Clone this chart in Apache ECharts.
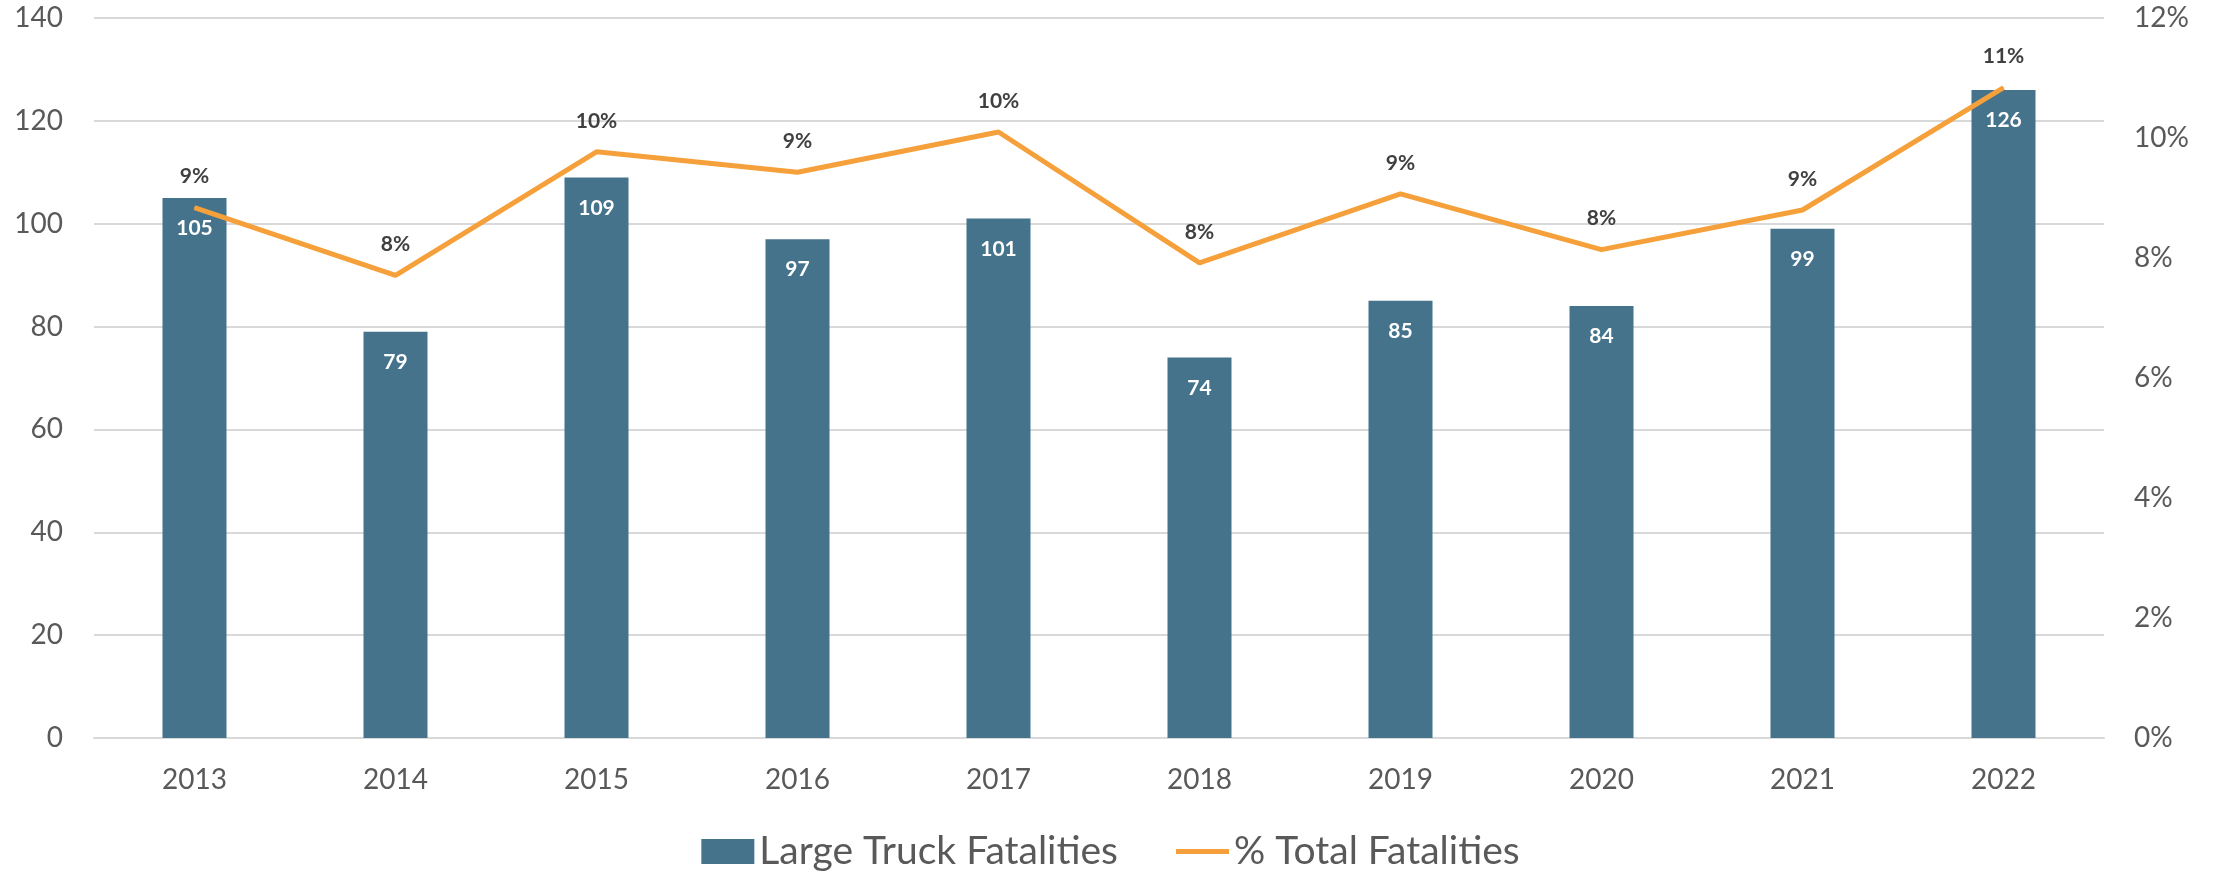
<!DOCTYPE html>
<html>
<head>
<meta charset="utf-8">
<script src="https://cdn.jsdelivr.net/npm/echarts@6/dist/echarts.min.js"></script>
<style>
  html, body { margin: 0; padding: 0; background: #ffffff; }
  #chart { width: 2221px; height: 871px; }
</style>
</head>
<body>
<div id="chart"></div>
<script>
const categories = ['2013', '2014', '2015', '2016', '2017', '2018', '2019', '2020', '2021', '2022'];
const truckFatalities = [105, 79, 109, 97, 101, 74, 85, 84, 99, 126];
const pctTotalFatalities = [8.84, 7.71, 9.77, 9.43, 10.10, 7.92, 9.07, 8.14, 8.80, 10.84];
const leftTicks = { min: 0, max: 140, interval: 20 };
const rightTicks = { min: 0, max: 12, interval: 2 };

const FONT = 'Lato, "Open Sans", sans-serif';
const BAR_COLOR = '#45738C';
const LINE_COLOR = '#F5A03A';

const chart = echarts.init(document.getElementById('chart'), null, { renderer: 'canvas' });
chart.setOption({
  backgroundColor: '#ffffff',
  animation: false,
  textStyle: { fontFamily: FONT },
  grid: { left: 94, right: 117, top: 18, bottom: 133 },
  legend: {
    top: 827,
    left: 'center',
    itemWidth: 53,
    itemHeight: 25,
    itemGap: 58,
    textStyle: { fontFamily: FONT, fontSize: 39, color: '#595959' },
    data: [
      { name: 'Large Truck Fatalities', icon: 'rect' },
      { name: '% Total Fatalities', icon: 'path://M0,0 H55 V5 H0 Z' }
    ]
  },
  xAxis: {
    type: 'category',
    data: categories,
    axisTick: { show: false },
    axisLine: { show: true, lineStyle: { color: '#D9D9D9', width: 2 } },
    axisLabel: { fontFamily: FONT, fontSize: 28, color: '#595959', margin: 28 }
  },
  yAxis: [
    {
      type: 'value',
      min: leftTicks.min, max: leftTicks.max, interval: leftTicks.interval,
      axisLine: { show: false },
      axisTick: { show: false },
      splitLine: { show: true, lineStyle: { color: '#D9D9D9', width: 2 } },
      axisLabel: { fontFamily: FONT, fontSize: 28, color: '#595959', margin: 31 }
    },
    {
      type: 'value',
      min: rightTicks.min, max: rightTicks.max, interval: rightTicks.interval,
      axisLine: { show: false },
      axisTick: { show: false },
      splitLine: { show: false },
      axisLabel: { fontFamily: FONT, fontSize: 28, color: '#595959', margin: 30, formatter: v => v + '%' }
    }
  ],
  series: [
    {
      name: 'Large Truck Fatalities',
      type: 'bar',
      data: truckFatalities,
      barWidth: 64,
      itemStyle: { color: BAR_COLOR },
      label: {
        show: true,
        position: 'insideTop',
        distance: 20,
        fontFamily: FONT,
        fontSize: 21,
        fontWeight: 'bold',
        color: '#ffffff'
      },
      z: 2
    },
    {
      name: '% Total Fatalities',
      type: 'line',
      yAxisIndex: 1,
      data: pctTotalFatalities,
      symbol: 'circle',
      symbolSize: 1,
      showSymbol: true,
      itemStyle: { color: LINE_COLOR },
      lineStyle: { color: LINE_COLOR, width: 5 },
      label: {
        show: true,
        position: 'top',
        distance: 20,
        fontFamily: FONT,
        fontSize: 21,
        fontWeight: 'bold',
        color: '#404040',
        formatter: p => Math.round(p.value) + '%'
      },
      z: 3
    }
  ]
});
</script>
</body>
</html>
